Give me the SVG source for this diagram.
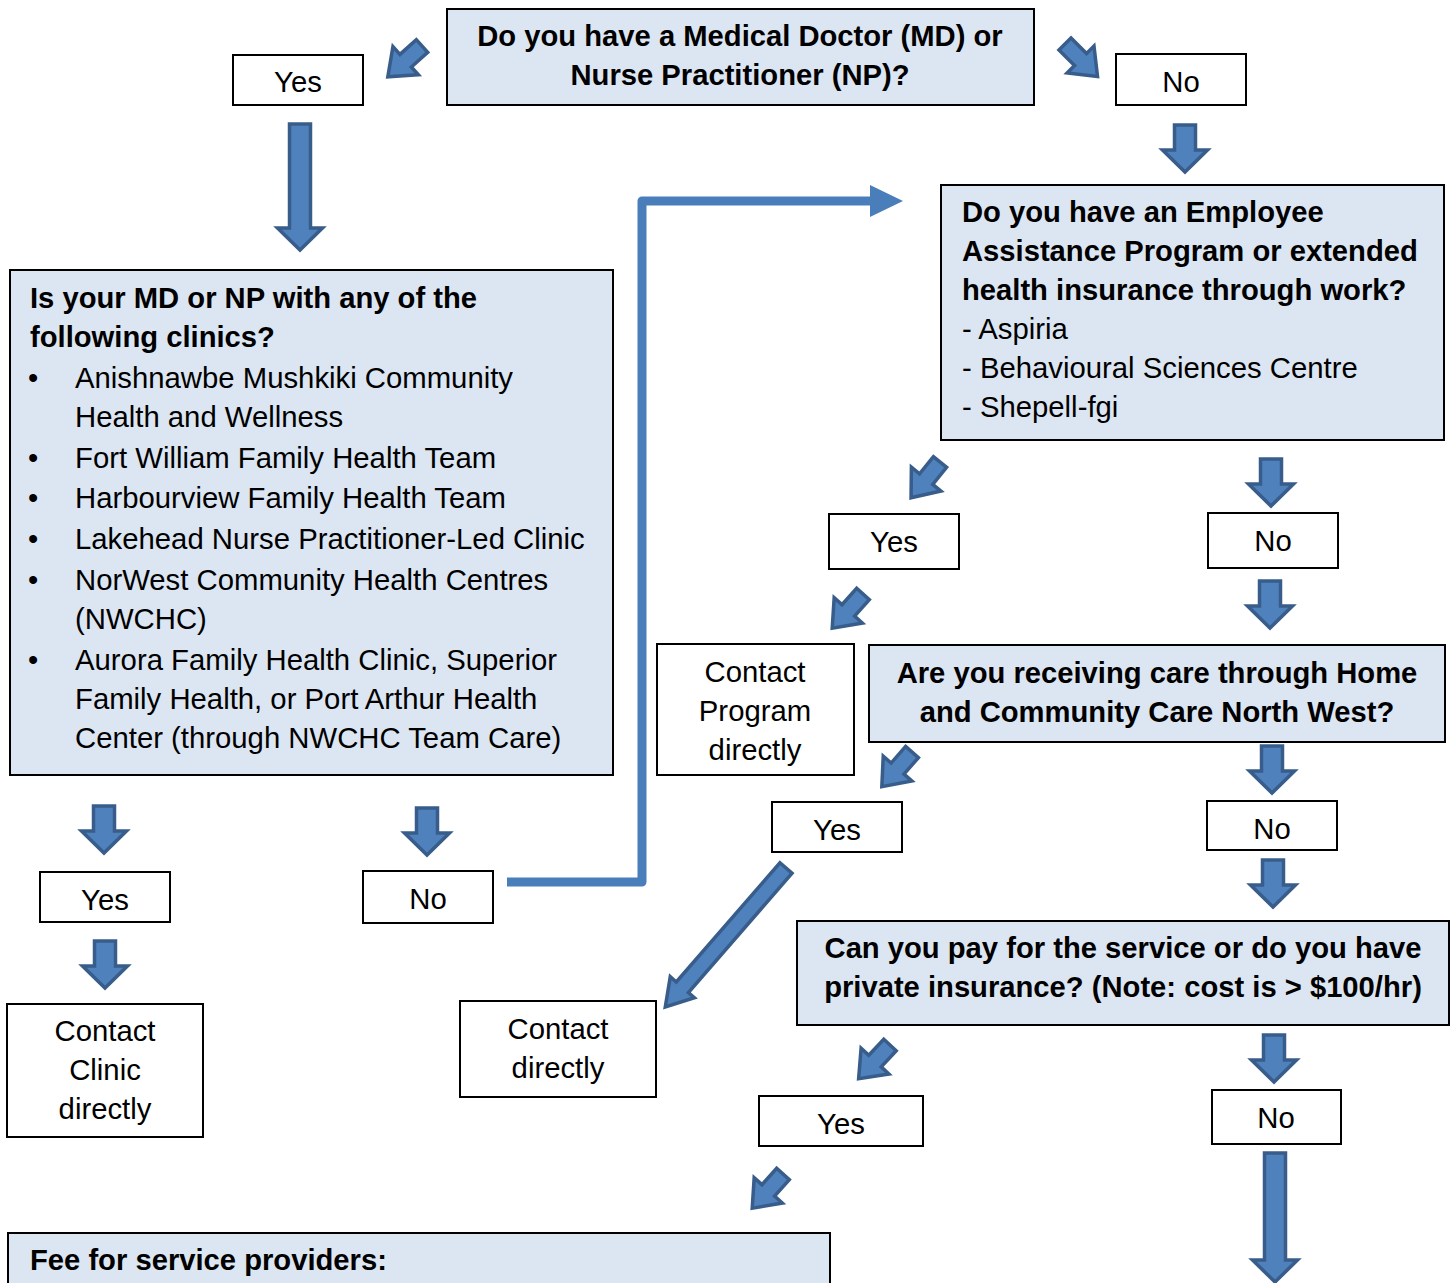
<svg xmlns="http://www.w3.org/2000/svg" width="1453" height="1283" viewBox="0 0 1453 1283">
<style>
  .q { fill: #DCE6F2; stroke: #000; stroke-width: 2; }
  .w { fill: #FFFFFF; stroke: #000; stroke-width: 2; }
  .b { font-family: "Liberation Sans", Arial, sans-serif; font-size: 29.2px; font-weight: bold; fill: #000; }
  .t { font-family: "Liberation Sans", Arial, sans-serif; font-size: 29.3px; fill: #000; }
  .c { text-anchor: middle; }
  .arr { fill: #4F81BD; stroke: #385D8A; stroke-width: 3.5; stroke-linejoin: miter; }
  .conn { fill: none; stroke: #4A7EBB; stroke-width: 9; stroke-linejoin: round; }
</style>
<defs>
  <path id="down" d="M-10.5,0 H10.5 V25 H22.5 L0,47 L-22.5,25 H-10.5 Z"/>
  <path id="diag" d="M-8.5,0 H8.5 V22 H19 L0,46 L-19,22 H-8.5 Z"/>
  <marker id="head" viewBox="0 0 33 32" refX="2" refY="16" markerWidth="33" markerHeight="32" markerUnits="userSpaceOnUse" orient="auto">
    <path d="M0,0 L33,16 L0,32 Z" fill="#4A7EBB"/>
  </marker>
</defs>
<rect width="1453" height="1283" fill="#FFFFFF"/>

<g id="connectors">
  <path class="conn" d="M507,882 H642 V201 H872" marker-end="url(#head)"/>
  <use href="#diag" class="arr" transform="translate(422,46) rotate(48)"/>
  <use href="#diag" class="arr" transform="translate(1065,44) rotate(-45)"/>
  <use href="#down" class="arr" transform="translate(1185,125)"/>
  <path class="arr" d="M-10.5,0 H10.5 V104 H22.5 L0,126 L-22.5,104 H-10.5 Z" transform="translate(300,124)"/>
  <use href="#diag" class="arr" transform="translate(940,462) rotate(39)"/>
  <use href="#down" class="arr" transform="translate(1271,459)"/>
  <use href="#diag" class="arr" transform="translate(863,594) rotate(42)"/>
  <use href="#down" class="arr" transform="translate(1270,581)"/>
  <use href="#diag" class="arr" transform="translate(912,752) rotate(41)"/>
  <use href="#down" class="arr" transform="translate(1272,746)"/>
  <use href="#down" class="arr" transform="translate(1273,860)"/>
  <path class="arr" d="M-8,0 H8 V158 H16 L0,184 L-16,158 H-8 Z" transform="translate(786,868) rotate(41)"/>
  <use href="#diag" class="arr" transform="translate(890,1045) rotate(43)"/>
  <use href="#down" class="arr" transform="translate(1274,1035)"/>
  <use href="#down" class="arr" transform="translate(104,806)"/>
  <use href="#down" class="arr" transform="translate(427,808)"/>
  <use href="#down" class="arr" transform="translate(105,941)"/>
  <use href="#diag" class="arr" transform="translate(783,1174) rotate(42)"/>
  <path class="arr" d="M-10.5,0 H10.5 V107 H22.5 L0,129 L-22.5,107 H-10.5 Z" transform="translate(1275,1153)"/>
</g>

<g id="q-md">
  <rect class="q" x="447" y="9" width="587" height="96"/>
  <text class="b c" x="740" y="46">Do you have a Medical Doctor (MD) or</text>
  <text class="b c" x="740" y="85">Nurse Practitioner (NP)?</text>
</g>
<g id="yes-md">
  <rect class="w" x="233" y="55" width="130" height="50"/>
  <text class="t c" x="298" y="92">Yes</text>
</g>
<g id="no-md">
  <rect class="w" x="1116" y="54" width="130" height="51"/>
  <text class="t c" x="1181" y="92">No</text>
</g>

<g id="q-clinic">
  <rect class="q" x="10" y="270" width="603" height="505"/>
  <text class="b" x="30" y="308">Is your MD or NP with any of the</text>
  <text class="b" x="30" y="347">following clinics?</text>
  <text class="t" x="28" y="388">•</text>
  <text class="t" x="75" y="388">Anishnawbe Mushkiki Community</text>
  <text class="t" x="75" y="427">Health and Wellness</text>
  <text class="t" x="28" y="468">•</text>
  <text class="t" x="75" y="468">Fort William Family Health Team</text>
  <text class="t" x="28" y="508">•</text>
  <text class="t" x="75" y="508">Harbourview Family Health Team</text>
  <text class="t" x="28" y="549">•</text>
  <text class="t" x="75" y="549">Lakehead Nurse Practitioner-Led Clinic</text>
  <text class="t" x="28" y="590">•</text>
  <text class="t" x="75" y="590">NorWest Community Health Centres</text>
  <text class="t" x="75" y="629">(NWCHC)</text>
  <text class="t" x="28" y="670">•</text>
  <text class="t" x="75" y="670">Aurora Family Health Clinic, Superior</text>
  <text class="t" x="75" y="709">Family Health, or Port Arthur Health</text>
  <text class="t" x="75" y="748">Center (through NWCHC Team Care)</text>
</g>

<g id="q-eap">
  <rect class="q" x="941" y="185" width="503" height="255"/>
  <text class="b" x="962" y="222">Do you have an Employee</text>
  <text class="b" x="962" y="261">Assistance Program or extended</text>
  <text class="b" x="962" y="300">health insurance through work?</text>
  <text class="t" x="962" y="339">- Aspiria</text>
  <text class="t" x="962" y="378">- Behavioural Sciences Centre</text>
  <text class="t" x="962" y="417">- Shepell-fgi</text>
</g>
<g id="yes-eap">
  <rect class="w" x="829" y="514" width="130" height="55"/>
  <text class="t c" x="894" y="552">Yes</text>
</g>
<g id="no-eap">
  <rect class="w" x="1208" y="513" width="130" height="55"/>
  <text class="t c" x="1273" y="551">No</text>
</g>
<g id="contact-program">
  <rect class="w" x="657" y="644" width="197" height="131"/>
  <text class="t c" x="755" y="682">Contact</text>
  <text class="t c" x="755" y="721">Program</text>
  <text class="t c" x="755" y="760">directly</text>
</g>
<g id="q-homecare">
  <rect class="q" x="869" y="645" width="576" height="97"/>
  <text class="b c" x="1157" y="683">Are you receiving care through Home</text>
  <text class="b c" x="1157" y="722">and Community Care North West?</text>
</g>
<g id="yes-home">
  <rect class="w" x="772" y="802" width="130" height="50"/>
  <text class="t c" x="837" y="840">Yes</text>
</g>
<g id="no-home">
  <rect class="w" x="1207" y="801" width="130" height="49"/>
  <text class="t c" x="1272" y="839">No</text>
</g>
<g id="q-pay">
  <rect class="q" x="797" y="921" width="652" height="104"/>
  <text class="b c" x="1123" y="958">Can you pay for the service or do you have</text>
  <text class="b c" x="1123" y="997">private insurance? (Note: cost is &gt; $100/hr)</text>
</g>
<g id="contact-directly">
  <rect class="w" x="460" y="1001" width="196" height="96"/>
  <text class="t c" x="558" y="1039">Contact</text>
  <text class="t c" x="558" y="1078">directly</text>
</g>
<g id="yes-clinic">
  <rect class="w" x="40" y="872" width="130" height="50"/>
  <text class="t c" x="105" y="910">Yes</text>
</g>
<g id="no-clinic">
  <rect class="w" x="363" y="871" width="130" height="52"/>
  <text class="t c" x="428" y="909">No</text>
</g>
<g id="contact-clinic">
  <rect class="w" x="7" y="1004" width="196" height="133"/>
  <text class="t c" x="105" y="1041">Contact</text>
  <text class="t c" x="105" y="1080">Clinic</text>
  <text class="t c" x="105" y="1119">directly</text>
</g>
<g id="yes-pay">
  <rect class="w" x="759" y="1096" width="164" height="50"/>
  <text class="t c" x="841" y="1134">Yes</text>
</g>
<g id="no-pay">
  <rect class="w" x="1212" y="1090" width="129" height="54"/>
  <text class="t c" x="1276" y="1128">No</text>
</g>
<g id="fee">
  <rect class="q" x="8" y="1233" width="822" height="60"/>
  <text class="b" x="30" y="1270">Fee for service providers:</text>
</g>
</svg>
